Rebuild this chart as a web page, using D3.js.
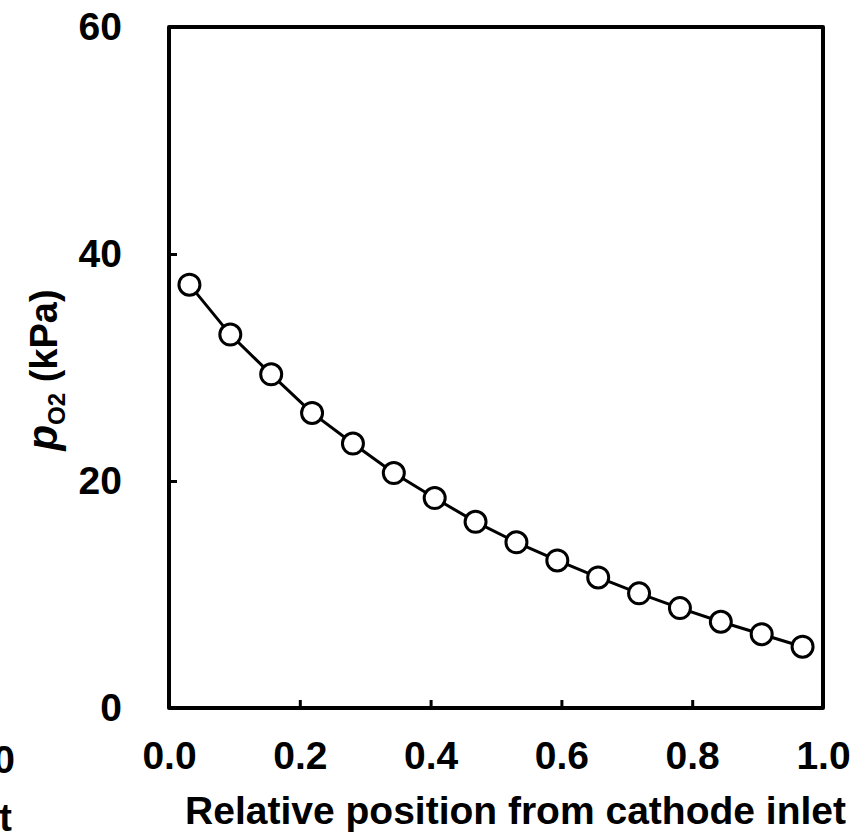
<!DOCTYPE html>
<html>
<head>
<meta charset="utf-8">
<script src="https://cdn.jsdelivr.net/npm/d3@7"></script>
<style>
  body { margin: 0; background: #fff; }
  svg { display: block; font-family: "Liberation Sans", Arial, sans-serif; font-weight: bold; }
</style>
</head>
<body>
<div id="wrapper"></div>
<script>
// data
const positions = [0.03125, 0.09375, 0.15625, 0.21875, 0.28125, 0.34375, 0.40625, 0.46875,
  0.53125, 0.59375, 0.65625, 0.71875, 0.78125, 0.84375, 0.90625, 0.96875]
const pO2 = [37.3, 32.9, 29.4, 26.0, 23.3, 20.7, 18.5, 16.4,
  14.6, 13.0, 11.5, 10.1, 8.8, 7.6, 6.5, 5.4]
const xTicks = [0, 0.2, 0.4, 0.6, 0.8, 1.0]
const yTicks = [0, 20, 40, 60]

const dimensions = {
  width: 853,
  height: 833,
  margin: { top: 27, right: 30, bottom: 125, left: 169 },
}
dimensions.boundedWidth = dimensions.width - dimensions.margin.left - dimensions.margin.right
dimensions.boundedHeight = dimensions.height - dimensions.margin.top - dimensions.margin.bottom

const wrapper = d3.select("#wrapper")
  .append("svg")
  .attr("width", dimensions.width)
  .attr("height", dimensions.height)

const bounds = wrapper.append("g")
  .attr("transform", `translate(${dimensions.margin.left},${dimensions.margin.top})`)

const xScale = d3.scaleLinear()
  .domain([0, 1])
  .range([0, dimensions.boundedWidth])

const yScale = d3.scaleLinear()
  .domain([0, 60])
  .range([dimensions.boundedHeight, 0])

// axes, ticks pointing inward
const xAxis = bounds.append("g")
  .attr("transform", `translate(0,${dimensions.boundedHeight})`)
  .call(d3.axisBottom(xScale).tickValues(xTicks).tickFormat(d3.format(".1f")).tickSizeInner(-8).tickSizeOuter(0))
xAxis.select(".domain").remove()
xAxis.selectAll("line").attr("stroke", "#000").attr("stroke-width", 3)
xAxis.selectAll("text")
  .attr("y", 61).attr("dy", 0)
  .attr("fill", "#000")
  .style("font-size", "39px")

const yAxis = bounds.append("g")
  .call(d3.axisLeft(yScale).tickValues(yTicks).tickSizeInner(-8).tickSizeOuter(0).tickPadding(47))
yAxis.select(".domain").remove()
yAxis.selectAll("line").attr("stroke", "#000").attr("stroke-width", 3)
yAxis.selectAll("text")
  .attr("fill", "#000")
  .style("font-size", "39px")

// frame
bounds.append("rect")
  .attr("width", dimensions.boundedWidth)
  .attr("height", dimensions.boundedHeight)
  .attr("fill", "none")
  .attr("stroke", "#000")
  .attr("stroke-width", 4)
  .attr("stroke-linejoin", "round")

// series
const line = d3.line()
  .x((d, i) => xScale(positions[i]))
  .y(d => yScale(d))

bounds.append("path")
  .datum(pO2)
  .attr("d", line)
  .attr("fill", "none")
  .attr("stroke", "#000")
  .attr("stroke-width", 3)

bounds.selectAll(".pt")
  .data(pO2)
  .join("circle")
  .attr("class", "pt")
  .attr("cx", (d, i) => xScale(positions[i]))
  .attr("cy", d => yScale(d))
  .attr("r", 10.5)
  .attr("fill", "#fff")
  .attr("stroke", "#000")
  .attr("stroke-width", 3)

// axis titles
wrapper.append("text")
  .attr("x", 846)
  .attr("y", 824)
  .attr("text-anchor", "end")
  .style("font-size", "39px")
  .text("Relative position from cathode inlet")

const yTitle = wrapper.append("text")
  .attr("transform", "translate(57,370) rotate(-90)")
  .attr("text-anchor", "middle")
  .style("font-size", "38px")
yTitle.append("tspan").style("font-style", "italic").style("font-size", "42px").text("p")
yTitle.append("tspan").attr("dy", 8).style("font-size", "24px").text("O2")
yTitle.append("tspan").attr("dy", -8).text(" (kPa)")

// clipped labels of the neighbouring panel at the left edge
wrapper.append("text")
  .attr("x", 15).attr("y", 773)
  .attr("text-anchor", "end")
  .style("font-size", "39px")
  .text("1.0")
wrapper.append("text")
  .attr("x", 12).attr("y", 831)
  .attr("text-anchor", "end")
  .style("font-size", "38px")
  .text("inlet")
</script>
</body>
</html>
